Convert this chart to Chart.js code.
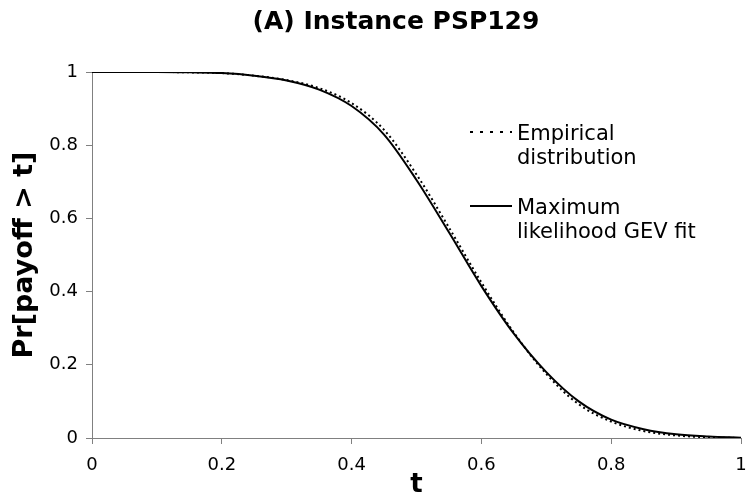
<!DOCTYPE html>
<html>
<head>
<meta charset="utf-8">
<script src="https://cdn.jsdelivr.net/npm/chart.js"></script>
<style>
  html, body { margin: 0; padding: 0; background: #fff; }
</style>
</head>
<body>
<canvas id="payoffChart" width="746" height="498"></canvas>
<script>
// values
const tValues   = [0, 0.05, 0.1, 0.15, 0.2, 0.25, 0.3, 0.35, 0.4, 0.45, 0.5, 0.55, 0.6, 0.65, 0.7, 0.75, 0.8, 0.85, 0.9, 0.95, 1];
const empirical = [1, 1, 1, 0.999, 0.997, 0.99, 0.978, 0.956, 0.915, 0.842, 0.72, 0.575, 0.425, 0.288, 0.175, 0.092, 0.045, 0.019, 0.007, 0.002, 0];
const gevFit    = [1, 1, 1, 0.999, 0.997, 0.99, 0.977, 0.952, 0.907, 0.829, 0.705, 0.562, 0.415, 0.285, 0.18, 0.1, 0.05, 0.024, 0.01, 0.004, 0.001];

const tickValues = [0, 0.2, 0.4, 0.6, 0.8, 1];
const tickLabels = ['0', '0.2', '0.4', '0.6', '0.8', '1'];

const chartTitle = '(A) Instance PSP129';
const legendLines = [['Empirical', 'distribution'], ['Maximum', 'likelihood GEV fit']];

Chart.defaults.font.family = '"DejaVu Sans", Verdana, sans-serif';
Chart.defaults.color = '#000';

function toPoints(ys) {
    return tValues.map((t, i) => ({ x: t, y: ys[i] }));
}

// title is centred a bit left of the plot, so draw it ourselves
const titlePlugin = {
    id: 'mainTitle',
    afterDraw(chart) {
        const ctx = chart.ctx;
        ctx.save();
        ctx.font = 'bold 25px "DejaVu Sans"';
        ctx.fillStyle = '#000';
        ctx.textAlign = 'center';
        ctx.textBaseline = 'alphabetic';
        ctx.fillText(chartTitle, 396, 29);
        ctx.restore();
    }
};

// legend sits inside the plot on the right, two-line labels
const legendPlugin = {
    id: 'sideLegend',
    afterDatasetsDraw(chart) {
        const ctx = chart.ctx;
        const rows = [132, 206];
        ctx.save();
        ctx.font = '21px "DejaVu Sans"';
        ctx.fillStyle = '#000';
        ctx.strokeStyle = '#000';
        ctx.lineWidth = 2;
        chart.data.datasets.forEach((ds, i) => {
            const y = rows[i];
            ctx.setLineDash(ds.borderDash && ds.borderDash.length ? [3, 7] : []);
            ctx.beginPath();
            ctx.moveTo(470, y);
            ctx.lineTo(512, y);
            ctx.stroke();
            legendLines[i].forEach((line, j) => {
                ctx.fillText(line, 517, y + 8 + j * 24);
            });
        });
        ctx.restore();
    }
};

const axisGrid = { drawOnChartArea: false, drawTicks: true, tickLength: 6, color: '#808080', lineWidth: 1 };
const axisBorder = { display: true, color: '#808080', width: 1 };

new Chart(document.getElementById('payoffChart'), {
    type: 'line',
    data: {
        datasets: [
            {
                label: legendLines[0].join(' '),
                data: toPoints(empirical),
                borderColor: '#000',
                borderWidth: 2,
                borderDash: [2, 3],
                pointRadius: 0,
                cubicInterpolationMode: 'monotone',
                fill: false
            },
            {
                label: legendLines[1].join(' '),
                data: toPoints(gevFit),
                borderColor: '#000',
                borderWidth: 2,
                pointRadius: 0,
                cubicInterpolationMode: 'monotone',
                fill: false
            }
        ]
    },
    options: {
        responsive: false,
        animation: false,
        devicePixelRatio: 1,
        layout: { padding: { top: 72, right: 5, left: 0, bottom: 0 } },
        plugins: {
            legend: { display: false },
            title: { display: false },
            tooltip: { enabled: false }
        },
        scales: {
            x: {
                type: 'linear',
                min: 0,
                max: 1,
                afterBuildTicks: scale => { scale.ticks = tickValues.map(v => ({ value: v })); },
                afterFit: scale => {
                    scale.height = 60;
                    scale.paddingLeft = 0;
                    scale.paddingRight = 0;
                },
                ticks: {
                    font: { size: 18 },
                    color: '#000',
                    padding: 11,
                    maxRotation: 0,
                    callback: (v, i) => tickLabels[i]
                },
                grid: axisGrid,
                border: axisBorder,
                title: {
                    display: true,
                    text: 't',
                    font: { size: 26, weight: 'bold', lineHeight: 1 },
                    padding: { top: 0, bottom: 0 }
                }
            },
            y: {
                type: 'linear',
                min: 0,
                max: 1,
                afterBuildTicks: scale => { scale.ticks = tickValues.map(v => ({ value: v })); },
                afterFit: scale => { scale.width = 92; },
                ticks: {
                    font: { size: 18 },
                    color: '#000',
                    padding: 8,
                    callback: (v, i) => tickLabels[i]
                },
                grid: axisGrid,
                border: axisBorder,
                title: {
                    display: true,
                    text: 'Pr[payoff > t]',
                    font: { size: 27, weight: 'bold', lineHeight: 1 },
                    padding: { top: 11, bottom: 0 }
                }
            }
        }
    },
    plugins: [titlePlugin, legendPlugin]
});
</script>
</body>
</html>
